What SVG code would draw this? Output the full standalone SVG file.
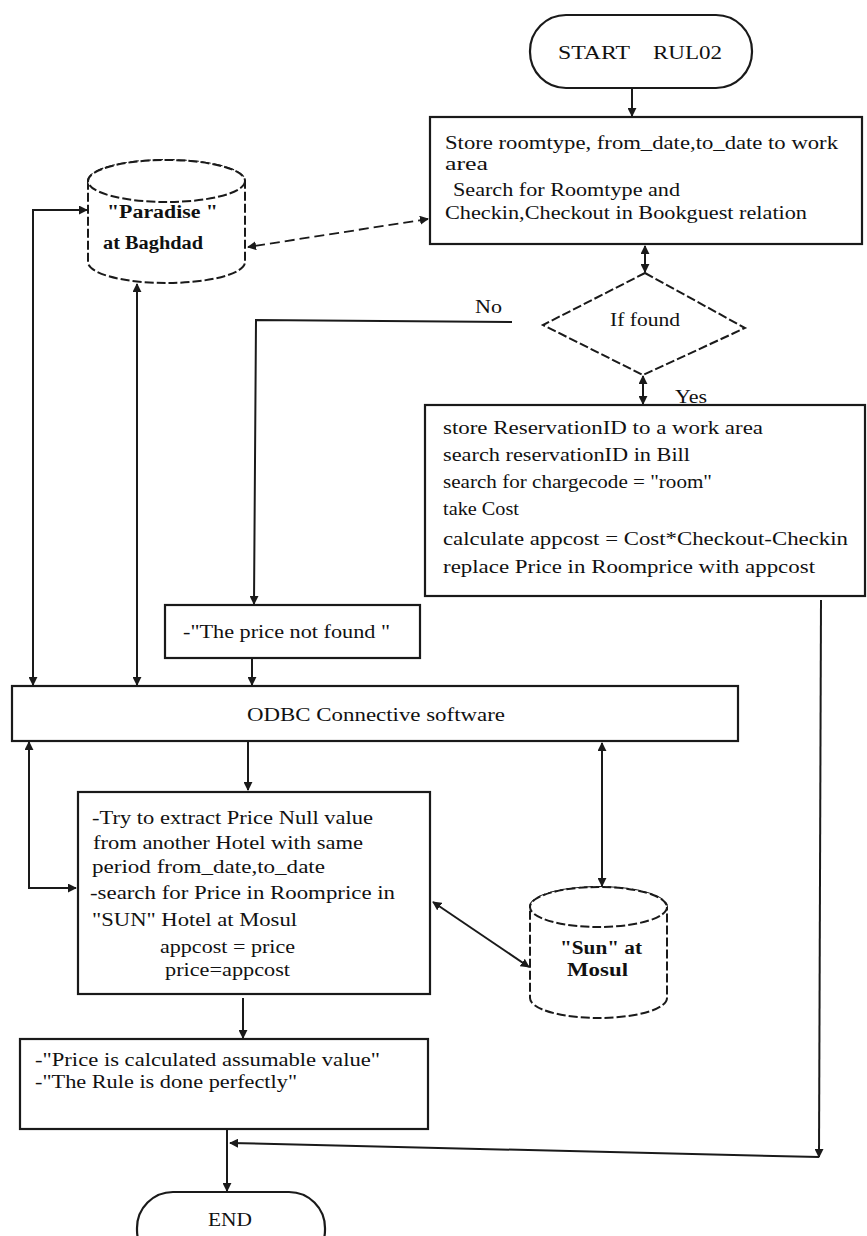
<svg xmlns="http://www.w3.org/2000/svg" width="867" height="1236" viewBox="0 0 867 1236">
<style>
.bx{fill:#fff;stroke:#1a1a1a;stroke-width:2.2}
.dsh{fill:#fff;stroke:#1a1a1a;stroke-width:2;stroke-dasharray:9 3}
.ln{fill:none;stroke:#1a1a1a;stroke-width:2}
.dl{fill:none;stroke:#1a1a1a;stroke-width:1.8;stroke-dasharray:10 5}
.t{font-family:"Liberation Serif","Times New Roman",serif;font-size:19px;fill:#111}
.tb{font-family:"Liberation Serif","Times New Roman",serif;font-size:18px;font-weight:bold;fill:#111}
</style>
<defs>
<marker id="ar" viewBox="0 0 10 10" refX="9" refY="5" markerWidth="9" markerHeight="9" markerUnits="userSpaceOnUse" orient="auto-start-reverse">
<path d="M0,0 L10,5 L0,10 Z" fill="#1a1a1a"/>
</marker>
</defs>
<rect width="867" height="1236" fill="#fff"/>

<g id="connectors">
<line class="ln" x1="632" y1="88" x2="632" y2="116" marker-end="url(#ar)"/>
<line class="dl" x1="428" y1="219" x2="248" y2="247" marker-start="url(#ar)" marker-end="url(#ar)"/>
<polyline class="ln" points="33,685 33,210 87,210" marker-start="url(#ar)" marker-end="url(#ar)"/>
<line class="ln" x1="137" y1="284" x2="137" y2="685" marker-start="url(#ar)" marker-end="url(#ar)"/>
<line class="ln" x1="645" y1="246" x2="645" y2="272" marker-start="url(#ar)" marker-end="url(#ar)"/>
<polyline class="ln" points="512,322 256,320 254,604" marker-end="url(#ar)"/>
<line class="ln" x1="643" y1="376" x2="643" y2="404" marker-start="url(#ar)" marker-end="url(#ar)"/>
<line class="ln" x1="252" y1="659" x2="252" y2="685" marker-end="url(#ar)"/>
<line class="ln" x1="248" y1="742" x2="248" y2="790" marker-end="url(#ar)"/>
<polyline class="ln" points="29,742 29,888 76,888" marker-start="url(#ar)" marker-end="url(#ar)"/>
<line class="ln" x1="602" y1="743" x2="602" y2="886" marker-start="url(#ar)" marker-end="url(#ar)"/>
<line class="ln" x1="433" y1="902" x2="529" y2="967" marker-start="url(#ar)" marker-end="url(#ar)"/>
<line class="ln" x1="243" y1="998" x2="243" y2="1038" marker-end="url(#ar)"/>
<line class="ln" x1="227" y1="1130" x2="227" y2="1191" marker-end="url(#ar)"/>
<polyline class="ln" points="821,600 819,1157" marker-end="url(#ar)"/>
<polyline class="ln" points="819,1157 230,1143" marker-end="url(#ar)"/>
</g>

<g id="start">
<rect class="bx" x="530" y="15" width="222" height="73" rx="36"/>
<text class="t" y="59"><tspan x="558" textLength="72" lengthAdjust="spacingAndGlyphs">START</tspan><tspan x="653" textLength="69" lengthAdjust="spacingAndGlyphs">RUL02</tspan></text>
</g>

<g id="store">
<rect class="bx" x="430" y="117" width="432" height="127"/>
<text class="t" x="445" y="149" textLength="393" lengthAdjust="spacingAndGlyphs">Store roomtype, from_date,to_date to work</text>
<text class="t" x="445" y="170" textLength="43" lengthAdjust="spacingAndGlyphs">area</text>
<text class="t" x="453" y="196" textLength="227" lengthAdjust="spacingAndGlyphs">Search for Roomtype and</text>
<text class="t" x="445" y="219" textLength="362" lengthAdjust="spacingAndGlyphs">Checkin,Checkout in Bookguest relation</text>
</g>

<g id="paradise">
<path class="dsh" d="M88,181 A78.5,21 0 0 1 245,181 L245,262 A78.5,21 0 0 1 88,262 Z"/>
<ellipse class="dsh" cx="166.5" cy="181" rx="78.5" ry="21"/>
<text class="tb" x="107" y="218" textLength="111" lengthAdjust="spacingAndGlyphs">"Paradise "</text>
<text class="tb" x="103" y="249" textLength="100" lengthAdjust="spacingAndGlyphs">at Baghdad</text>
</g>

<g id="iffound">
<polygon class="dsh" points="645,273 745,328 643,375 543,325"/>
<text class="t" x="610" y="326" textLength="70" lengthAdjust="spacingAndGlyphs">If found</text>
</g>
<g id="labels">
<text class="t" x="475" y="313" textLength="27" lengthAdjust="spacingAndGlyphs">No</text>
<text class="t" x="675" y="403" textLength="32" lengthAdjust="spacingAndGlyphs">Yes</text>
</g>

<g id="reservation">
<rect class="bx" x="425" y="405" width="440" height="191"/>
<text class="t" x="443" y="434" textLength="320" lengthAdjust="spacingAndGlyphs">store ReservationID  to a work area</text>
<text class="t" x="443" y="461" textLength="247" lengthAdjust="spacingAndGlyphs">search reservationID in Bill</text>
<text class="t" x="443" y="488" textLength="269" lengthAdjust="spacingAndGlyphs">search for chargecode = "room"</text>
<text class="t" x="443" y="515" textLength="76" lengthAdjust="spacingAndGlyphs">take Cost</text>
<text class="t" x="443" y="545" textLength="405" lengthAdjust="spacingAndGlyphs">calculate appcost = Cost*Checkout-Checkin</text>
<text class="t" x="443" y="573" textLength="372" lengthAdjust="spacingAndGlyphs">replace Price in Roomprice with appcost</text>
</g>

<g id="notfound">
<rect class="bx" x="165" y="605" width="255" height="53"/>
<text class="t" x="183" y="638" textLength="207" lengthAdjust="spacingAndGlyphs">-"The price not found "</text>
</g>

<g id="odbc">
<rect class="bx" x="12" y="686" width="726" height="55"/>
<text class="t" x="247" y="721" textLength="258" lengthAdjust="spacingAndGlyphs">ODBC Connective software</text>
</g>

<g id="try">
<rect class="bx" x="78" y="792" width="352" height="202"/>
<text class="t" x="92" y="824" textLength="281" lengthAdjust="spacingAndGlyphs">-Try to extract Price Null value</text>
<text class="t" x="93" y="849" textLength="270" lengthAdjust="spacingAndGlyphs">from another Hotel with same</text>
<text class="t" x="92" y="873" textLength="233" lengthAdjust="spacingAndGlyphs">period  from_date,to_date</text>
<text class="t" x="90" y="899" textLength="305" lengthAdjust="spacingAndGlyphs">-search for Price in Roomprice in</text>
<text class="t" x="92" y="926" textLength="205" lengthAdjust="spacingAndGlyphs">"SUN" Hotel at Mosul</text>
<text class="t" x="160" y="953" textLength="135" lengthAdjust="spacingAndGlyphs">appcost = price</text>
<text class="t" x="165" y="976" textLength="125" lengthAdjust="spacingAndGlyphs">price=appcost</text>
</g>

<g id="sun">
<path class="dsh" d="M530,907 A68.5,20 0 0 1 667,907 L667,998 A68.5,20 0 0 1 530,998 Z"/>
<ellipse class="dsh" cx="598.5" cy="907" rx="68.5" ry="20"/>
<text class="tb" x="560" y="954" textLength="82" lengthAdjust="spacingAndGlyphs">"Sun" at</text>
<text class="tb" x="567" y="976" textLength="61" lengthAdjust="spacingAndGlyphs">Mosul</text>
</g>

<g id="calculated">
<rect class="bx" x="20" y="1039" width="408" height="90"/>
<text class="t" x="35" y="1066" textLength="345" lengthAdjust="spacingAndGlyphs">-"Price is calculated assumable value"</text>
<text class="t" x="35" y="1088" textLength="262" lengthAdjust="spacingAndGlyphs">-"The Rule is done perfectly"</text>
</g>

<g id="end">
<rect class="bx" x="137" y="1192" width="188" height="74" rx="36"/>
<text class="t" x="208" y="1226" textLength="44" lengthAdjust="spacingAndGlyphs">END</text>
</g>
</svg>
